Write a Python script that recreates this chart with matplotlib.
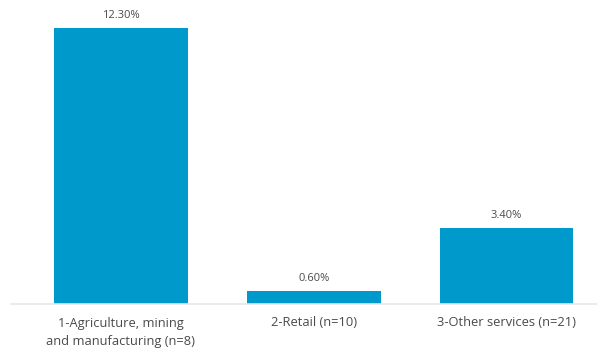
import matplotlib.pyplot as plt

categories = ["1-Agriculture, mining\nand manufacturing (n=8)", "2-Retail (n=10)", "3-Other services (n=21)"]
values = [12.30, 0.60, 3.40]
labels = ["12.30%", "0.60%", "3.40%"]

plt.rcParams['font.family'] = ['Open Sans', 'DejaVu Sans']

fig = plt.figure(figsize=(5.97, 3.49), dpi=100)
ax = fig.add_axes([11 / 597, 45 / 349, 586 / 597, 304 / 349])

x = range(len(values))
bars = ax.bar(x, values, width=0.694, color="#0099cc", zorder=2)

for b, lab in zip(bars, labels):
    ax.annotate(lab, (b.get_x() + b.get_width() / 2, b.get_height()),
                xytext=(0, 5), textcoords="offset points",
                ha="center", va="bottom", fontsize=8, color="#4a4a4a")

ax.set_xlim(-0.57, 2.47)
ax.set_ylim(0, 13.55)
ax.set_xticks(list(x))
ax.set_xticklabels(categories, fontsize=9.3, color="#4a4a4a", linespacing=1.55)
ax.tick_params(axis="x", length=0, pad=9)
ax.set_yticks([])
for s in ["top", "right", "left"]:
    ax.spines[s].set_visible(False)
ax.spines["bottom"].set_color("#e6e6e6")
ax.spines["bottom"].set_linewidth(1.2)

fig.savefig("out.png", dpi=100)
